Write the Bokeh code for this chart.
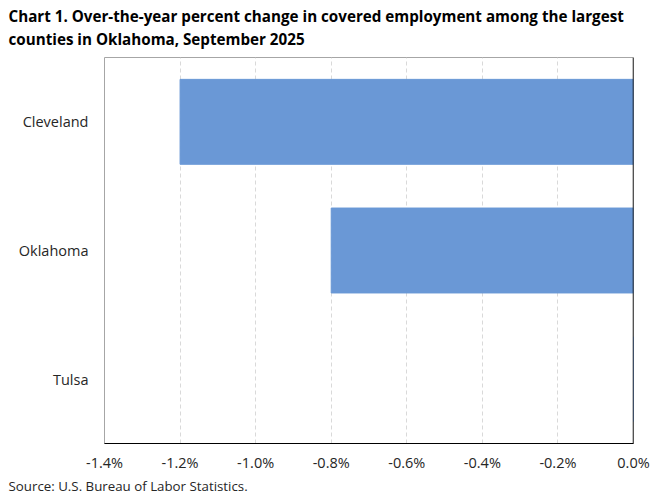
from bokeh.embed import file_html
from bokeh.models import FixedTicker, PrintfTickFormatter, Range1d, Span, Title
from bokeh.plotting import figure
from bokeh.resources import INLINE

# data
counties = ["Cleveland", "Oklahoma", "Tulsa"]
pct_change = [-1.2, -0.8, 0.0]
x_ticks = [-1.4, -1.2, -1.0, -0.8, -0.6, -0.4, -0.2, 0.0]

title_lines = [
    "Chart 1. Over-the-year percent change in covered employment among the largest",
    "counties in Oklahoma, September 2025",
]
source_note = "Source: U.S. Bureau of Labor Statistics."

FONT = "Open Sans"
TEXT = "#262626"
BAR = "#6A98D6"

p = figure(
    width=660,
    height=494,
    y_range=counties[::-1],
    x_range=Range1d(-1.4, 0.0),
    output_backend="svg",
    toolbar_location=None,
    min_border_left=104,
    min_border_right=27,
    min_border_top=57,
    min_border_bottom=50,
)

p.hbar(y=counties, left=0, right=pct_change, height=0.66, color=BAR)

# title block: a small spacer next to the frame, then the two lines
p.add_layout(Title(text=" ", text_font=FONT, text_font_size="4px", standoff=0), "above")
p.add_layout(Title(text=title_lines[1], text_font=FONT, text_font_size="15.2px",
                   text_color="black", align="left", offset=-96, standoff=3), "above")
p.add_layout(Title(text=title_lines[0], text_font=FONT, text_font_size="15.2px",
                   text_color="black", align="left", offset=-96, standoff=0), "above")
p.add_layout(Title(text=source_note, text_font=FONT, text_font_size="13.3px",
                   text_font_style="normal", text_color=TEXT, align="left",
                   offset=-96, standoff=0), "below")

p.outline_line_color = "#a6a6a6"
p.outline_line_width = 1

p.xaxis.ticker = FixedTicker(ticks=x_ticks)
p.xaxis.formatter = PrintfTickFormatter(format="%.1f%%")
p.xaxis.axis_line_color = "black"
p.xaxis.major_tick_line_color = None
p.xaxis.minor_tick_line_color = None
p.xaxis.major_label_standoff = 3
p.xaxis.major_label_text_font = FONT
p.xaxis.major_label_text_font_size = "14.5px"
p.xaxis.major_label_text_color = TEXT

p.yaxis.axis_line_color = None
p.yaxis.major_tick_line_color = None
p.yaxis.major_label_standoff = 10
p.yaxis.major_label_text_font = FONT
p.yaxis.major_label_text_font_size = "14.5px"
p.yaxis.major_label_text_color = TEXT

p.xgrid.grid_line_color = "#d9d9d9"
p.xgrid.grid_line_dash = "4 3"
p.ygrid.grid_line_color = None

# vertical axis crosses at zero (right edge)
p.add_layout(Span(location=0, dimension="height", line_color="black", line_width=1.5))

open("out.html", "w").write(file_html(p, INLINE))
